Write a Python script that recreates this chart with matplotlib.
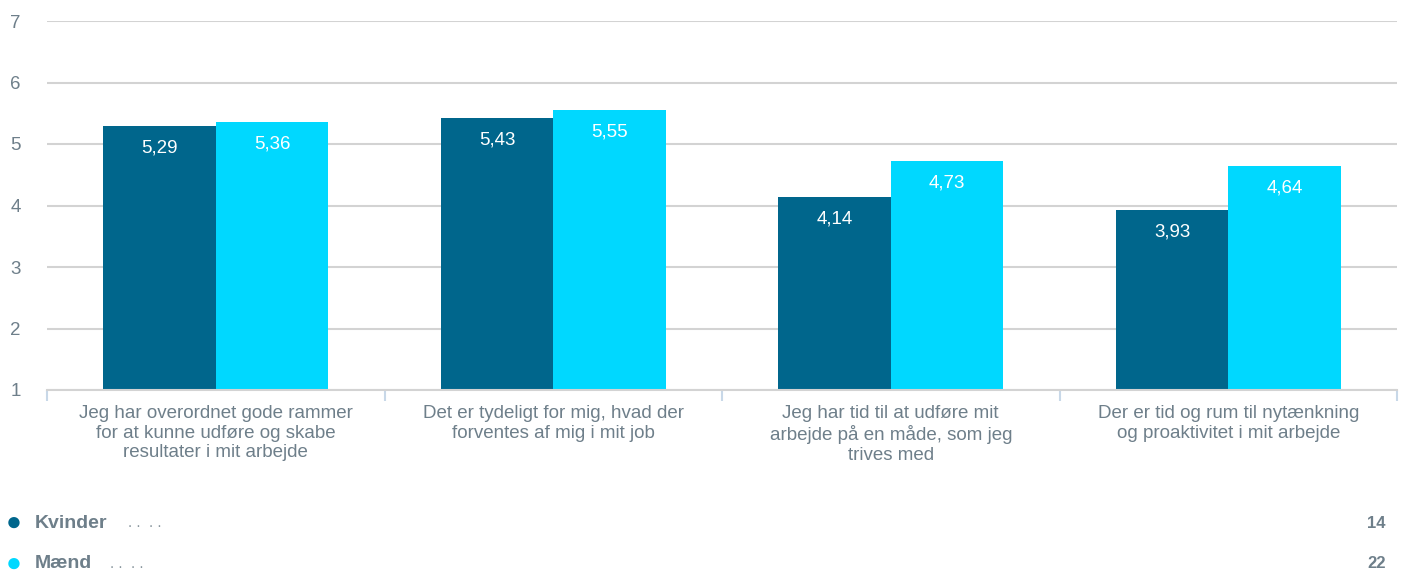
import numpy as np
import matplotlib.pyplot as plt

plt.rcParams['font.family'] = ['Liberation Sans', 'DejaVu Sans']

categories = [
    "Jeg har overordnet gode rammer\nfor at kunne udføre og skabe\nresultater i mit arbejde",
    "Det er tydeligt for mig, hvad der\nforventes af mig i mit job",
    "Jeg har tid til at udføre mit\narbejde på en måde, som jeg\ntrives med",
    "Der er tid og rum til nytænkning\nog proaktivitet i mit arbejde",
]
kvinder = [5.29, 5.43, 4.14, 3.93]
maend = [5.36, 5.55, 4.73, 4.64]
series_names = ["Kvinder", "Mænd"]
series_counts = [14, 22]
yticks = [1, 2, 3, 4, 5, 6, 7]

dark = "#00668C"
light = "#00D8FF"
grey_text = "#6E7F8A"

fig = plt.figure(figsize=(14.04, 5.76), dpi=100)
ax = fig.add_axes([47 / 1404, 186 / 576, 1350 / 1404, 369 / 576])

x = np.arange(len(categories))
w = 1 / 3
bars1 = ax.bar(x - w / 2, [v - 1 for v in kvinder], w, bottom=1, color=dark)
bars2 = ax.bar(x + w / 2, [v - 1 for v in maend], w, bottom=1, color=light)

for bars, vals in ((bars1, kvinder), (bars2, maend)):
    for b, v in zip(bars, vals):
        ax.annotate(f"{v:.2f}".replace(".", ","), (b.get_x() + b.get_width() / 2, v),
                    xytext=(0, -16), textcoords="offset points",
                    ha="center", va="center", color="white", fontsize=13.5)

ax.set_xlim(-0.5, len(categories) - 0.5)
ax.set_ylim(1, 7)
ax.set_yticks(yticks)
ax.set_yticklabels([str(t) for t in yticks])
ax.grid(axis="y", color="#D3D3D3", linewidth=1.5)
ax.set_axisbelow(True)

ax.set_xticks(x)
ax.set_xticklabels(categories, fontsize=13.5, color=grey_text, linespacing=1.2)
ax.set_xticks(np.arange(len(categories) + 1) - 0.5, minor=True)
ax.tick_params(axis="x", which="major", length=0, pad=11)
ax.tick_params(axis="x", which="minor", length=8, color="#C8D8E8", width=1.5)
ax.tick_params(axis="y", length=0, labelsize=13.5, labelcolor=grey_text, pad=26.5)
for lbl in ax.get_yticklabels():
    lbl.set_horizontalalignment("left")

for s in ["top", "right", "left"]:
    ax.spines[s].set_visible(False)
ax.spines["bottom"].set_color("#D3D3D3")
ax.spines["bottom"].set_linewidth(1.5)

# legend rows at the bottom
for i, (name, n, col) in enumerate(zip(series_names, series_counts, [dark, light])):
    yy = 1 - (523 + 41 * i) / 576
    fig.text(14 / 1404, yy, "●", color=col, fontsize=19, ha="center", va="center")
    fig.text(35 / 1404, yy, name, color=grey_text, fontsize=14, fontweight="bold",
             ha="left", va="center")
    dx = 128 if i == 0 else 110
    fig.text(dx / 1404, yy, ". .  . .", color="#8A979F", fontsize=11, ha="left", va="center")
    fig.text(1386 / 1404, yy, str(n), color=grey_text, fontsize=12, fontweight="bold",
             ha="right", va="center")

fig.savefig("out.png", dpi=100)
